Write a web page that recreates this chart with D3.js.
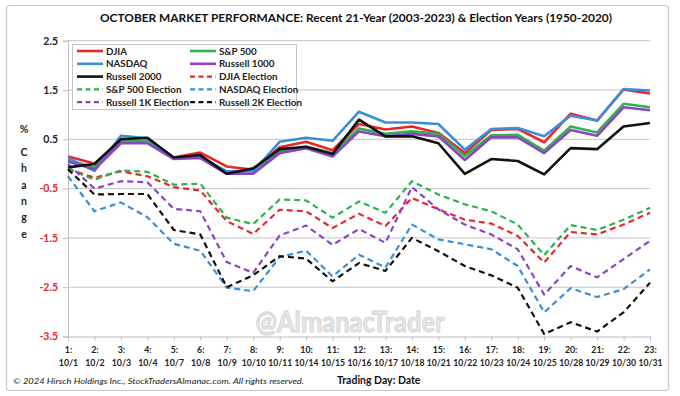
<!DOCTYPE html>
<html><head><meta charset="utf-8">
<script src="https://cdn.jsdelivr.net/npm/d3@7"></script>
<style>body{margin:0;background:#fff}svg{display:block}text{font-family:Lato,"Open Sans",sans-serif}</style>
</head><body>
<svg id="c" width="680" height="396"></svg>
<script>
const dayNums = ["1:","2:","3:","4:","5:","6:","7:","8:","9:","10:","11:","12:","13:","14:","15:","16:","17:","18:","19:","20:","21:","22:","23:"];
const dates = ["10/1","10/2","10/3","10/4","10/7","10/8","10/9","10/10","10/11","10/14","10/15","10/16","10/17","10/18","10/21","10/22","10/23","10/24","10/25","10/28","10/29","10/30","10/31"];
const yTicks = [2.5,1.5,0.5,-0.5,-1.5,-2.5,-3.5];

const djia = [0.15,0.01,0.45,0.45,0.13,0.23,-0.05,-0.12,0.34,0.45,0.28,0.81,0.70,0.76,0.63,0.22,0.69,0.71,0.44,1.02,0.88,1.51,1.43];
const sp500 = [0.08,-0.07,0.47,0.47,0.12,0.15,-0.17,-0.13,0.25,0.35,0.22,0.72,0.61,0.66,0.61,0.16,0.58,0.59,0.27,0.76,0.64,1.22,1.15];
const nasdaq = [0.12,-0.14,0.57,0.52,0.12,0.15,-0.15,-0.15,0.45,0.53,0.47,1.06,0.84,0.84,0.81,0.29,0.71,0.73,0.56,0.98,0.88,1.52,1.49];
const russell1000 = [0.05,-0.11,0.42,0.42,0.10,0.12,-0.20,-0.20,0.22,0.32,0.15,0.66,0.56,0.61,0.56,0.08,0.54,0.54,0.22,0.69,0.57,1.15,1.09];
const russell2000 = [-0.07,0.00,0.50,0.53,0.13,0.18,-0.20,-0.09,0.30,0.35,0.20,0.90,0.56,0.56,0.42,-0.20,0.10,0.06,-0.21,0.32,0.30,0.76,0.83];
const djiaElection = [-0.10,-0.28,-0.15,-0.25,-0.47,-0.54,-1.16,-1.42,-0.93,-0.96,-1.30,-1.01,-1.26,-0.69,-0.92,-1.13,-1.21,-1.46,-2.00,-1.38,-1.43,-1.23,-0.99];
const sp500Election = [-0.10,-0.32,-0.13,-0.16,-0.42,-0.40,-1.09,-1.22,-0.72,-0.74,-1.09,-0.76,-0.99,-0.35,-0.62,-0.82,-0.96,-1.23,-1.85,-1.24,-1.34,-1.13,-0.89];
const nasdaqElection = [-0.25,-0.96,-0.78,-1.08,-1.62,-1.76,-2.51,-2.58,-1.89,-1.76,-2.28,-1.84,-2.10,-1.23,-1.53,-1.63,-1.73,-2.07,-3.01,-2.52,-2.70,-2.54,-2.14];
const r1kElection = [0.00,-0.50,-0.35,-0.37,-0.91,-0.96,-1.99,-2.21,-1.45,-1.25,-1.64,-1.32,-1.60,-0.47,-0.92,-1.23,-1.43,-1.73,-2.65,-2.07,-2.30,-1.93,-1.56];
const r2kElection = [-0.11,-0.62,-0.61,-0.61,-1.34,-1.43,-2.50,-2.26,-1.87,-1.92,-2.38,-2.01,-2.17,-1.50,-1.77,-2.07,-2.26,-2.51,-3.45,-3.21,-3.40,-3.01,-2.41];

const seriesNames = ["DJIA","S&P 500","NASDAQ","Russell 1000","Russell 2000","DJIA Election","S&P 500 Election","NASDAQ Election","Russell 1K Election","Russell 2K Election"];
const seriesValues = [djia,sp500,nasdaq,russell1000,russell2000,djiaElection,sp500Election,nasdaqElection,r1kElection,r2kElection];
const seriesColors = ["#e8262b","#2db34e","#3a8fd8","#8a45c5","#111111","#e8262b","#2db34e","#3a8fd8","#8a45c5","#111111"];
const seriesDashed = [false,false,false,false,false,true,true,true,true,true];

const svg = d3.select("#c");
const L = 68, R = 650, T = 40.7, B = 336.5;
const x = d3.scalePoint().domain(d3.range(dates.length)).range([L, R]);
const y = d3.scaleLinear().domain([-3.5, 2.5]).range([B, T]);

// outer border
svg.append("rect").attr("x",6.5).attr("y",5.5).attr("width",662).attr("height",385)
  .attr("rx",3).attr("fill","#fff").attr("stroke","#c8c8c8").attr("stroke-width",1.2);

// title
svg.append("text").attr("x",356).attr("y",22).attr("text-anchor","middle")
  .attr("font-weight","bold").attr("font-size",11.5).attr("fill","#111")
  .attr("textLength",512).attr("lengthAdjust","spacingAndGlyphs")
  .text("OCTOBER MARKET PERFORMANCE: Recent 21-Year (2003-2023) & Election Years (1950-2020)");

// gridlines
svg.append("g").selectAll("line").data(yTicks.slice(0, -1)).join("line")
  .attr("x1",L).attr("x2",R).attr("y1",d=>y(d)).attr("y2",d=>y(d))
  .attr("stroke","#c4c4c4").attr("stroke-width",1);

// watermark
svg.append("text").attr("x",350).attr("y",332).attr("text-anchor","middle")
  .attr("font-weight","bold").attr("font-size",29).attr("font-family","'Liberation Sans',sans-serif")
  .attr("fill","#e6e6e6").attr("stroke","#d6d6d6").attr("stroke-width",1)
  .attr("textLength",189).attr("lengthAdjust","spacingAndGlyphs")
  .text("@AlmanacTrader");

// y axis
const yAxis = d3.axisLeft(y).tickValues(yTicks).tickSize(5).tickFormat(d3.format(".1f"));
const gy = svg.append("g").attr("transform",`translate(${L},0)`).call(yAxis);
gy.select(".domain").attr("stroke","#bdbdbd");
gy.selectAll(".tick line").attr("stroke","#bdbdbd");
gy.selectAll(".tick text").attr("font-size",10.5).attr("font-weight","bold")
  .attr("font-family","Lato,sans-serif").attr("x",-10)
  .attr("fill",d=>d<0?"#e8262b":"#222")
  .text(d=>d3.format(".1f")(d).replace("−","-"));

// x axis
const xAxis = d3.axisBottom(x).tickSize(4).tickFormat("");
const gx = svg.append("g").attr("transform",`translate(0,${B})`).call(xAxis);
gx.select(".domain").attr("stroke","#bdbdbd");
gx.selectAll(".tick line").attr("stroke","#bdbdbd");
gx.selectAll(".tick").each(function(d){
  const g = d3.select(this);
  g.append("text").attr("y",16).attr("text-anchor","middle").attr("font-size",8.8)
    .attr("font-weight","bold").attr("fill","#222").text(dayNums[d]);
  const t = g.append("text").attr("y",29).attr("text-anchor","middle").attr("font-size",8.8)
    .attr("font-weight","bold").attr("fill","#222").text(dates[d]);
  if (dates[d].length > 4) t.attr("textLength",24).attr("lengthAdjust","spacingAndGlyphs");
});

// y title
svg.append("text").attr("x",24).attr("y",133).attr("text-anchor","middle")
  .attr("font-weight","bold").attr("font-size",10.5).attr("fill","#222").text("%");
"Change".split("").forEach((ch,i)=>{
  svg.append("text").attr("x",24).attr("y",156+i*16.3).attr("text-anchor","middle")
    .attr("font-weight","bold").attr("font-size",10.5).attr("fill","#222").text(ch);
});

// lines
const line = d3.line().x((d,i)=>x(i)).y(d=>y(d));
const order = [5,6,7,8,9,0,1,2,3,4];
svg.append("g").selectAll("path").data(order).join("path")
  .attr("d",k=>line(seriesValues[k]))
  .attr("fill","none").attr("stroke",k=>seriesColors[k])
  .attr("stroke-width",k=>seriesDashed[k]?2.2:2.6)
  .attr("stroke-dasharray",k=>seriesDashed[k]?"6,4":null)
  .attr("stroke-linejoin","round");

// legend
const lg = svg.append("g");
lg.append("rect").attr("x",72.5).attr("y",44.5).attr("width",224).attr("height",65)
  .attr("fill","#fff").attr("stroke","#c4c4c4");
seriesNames.forEach((n,k)=>{
  const col = k%2, row = Math.floor(k/2);
  const x0 = col ? 190 : 77, yy = 51 + row*12.8;
  lg.append("line").attr("x1",x0).attr("x2",x0+26).attr("y1",yy).attr("y2",yy)
    .attr("stroke",seriesColors[k]).attr("stroke-width",seriesDashed[k]?2.2:2.6)
    .attr("stroke-dasharray",seriesDashed[k]?"5,3.5":null);
  lg.append("text").attr("x",x0+29).attr("y",yy+3.5).attr("font-size",9.8)
    .attr("font-weight","bold").attr("fill","#222").text(n);
});

// footer
svg.append("text").attr("x",13).attr("y",384).attr("font-size",8.5).attr("font-style","italic")
  .attr("fill","#222").attr("textLength",291).attr("lengthAdjust","spacingAndGlyphs")
  .text("© 2024 Hirsch Holdings Inc., StockTradersAlmanac.com. All rights reserved.");
svg.append("text").attr("x",337).attr("y",384).attr("font-size",10.5).attr("font-weight","bold")
  .attr("fill","#111").text("Trading Day: Date");
</script>
</body></html>
